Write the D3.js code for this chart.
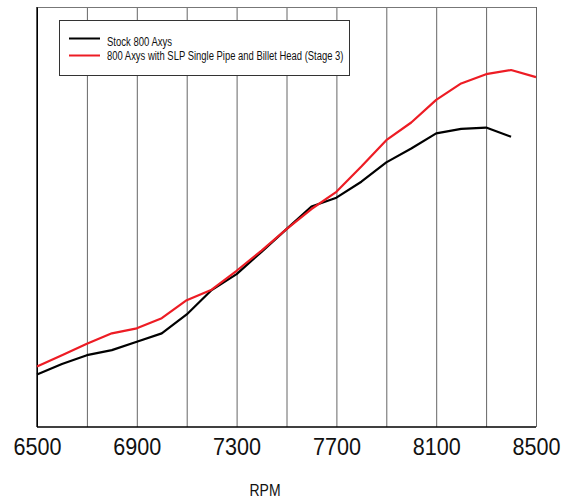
<!DOCTYPE html>
<html><head><meta charset="utf-8">
<script src="https://cdn.jsdelivr.net/npm/d3@7"></script>
<style>body{margin:0;background:#fff}svg{display:block}</style>
</head><body>
<svg id="c" width="571" height="498"></svg>
<script>
const rpm = [6500,6600,6700,6800,6900,7000,7100,7200,7300,7400,7500,7600,7700,7800,7900,8000,8100,8200,8300,8400,8500];
const stock = [12.5,15.0,17.1,18.3,20.3,22.3,26.8,32.6,36.4,41.7,47.1,52.5,54.6,58.4,63.0,66.3,69.9,71.0,71.3,69.1,null];
const stage3 = [14.4,17.1,19.8,22.3,23.5,25.9,30.2,32.7,37.2,42.0,47.1,51.9,56.0,62.0,68.3,72.5,77.9,81.8,84.0,85.0,83.3];
const gridTicks = [6500,6700,6900,7100,7300,7500,7700,7900,8100,8300,8500];
const labelTicks = [6500,6900,7300,7700,8100,8500];
const seriesNames = ["Stock 800 Axys","800 Axys with SLP Single Pipe and Billet Head (Stage 3)"];
const seriesColors = ["#000000","#ed1c24"];

const svg = d3.select("#c");
const L=37,R=536,T=7,B=427;
const x = d3.scaleLinear().domain([6500,8500]).range([L,R]);
const y = d3.scaleLinear().domain([0,100]).range([B,T]);

// gridlines
const grid = svg.append("g").attr("transform",`translate(0,${B})`)
  .call(d3.axisBottom(x).tickValues(gridTicks).tickSize(-(B-T)).tickFormat(""));
grid.select(".domain").remove();
grid.selectAll(".tick line").attr("stroke",(d,i)=> i%2? "#6e6e6e":"#222").attr("stroke-width",1);
grid.selectAll(".tick line").attr("stroke",(d)=> (d===6500)? "#000":"#666");

// frame
svg.append("line").attr("x1",L).attr("x2",R).attr("y1",T+0.5).attr("y2",T+0.5).attr("stroke","#777");
svg.append("line").attr("x1",L).attr("x2",R).attr("y1",B).attr("y2",B).attr("stroke","#000").attr("stroke-width",1.3);
svg.append("line").attr("x1",L).attr("x2",L).attr("y1",T).attr("y2",B).attr("stroke","#000").attr("stroke-width",1.3);

// labels
const lab = svg.append("g").attr("transform",`translate(0,${B})`)
  .call(d3.axisBottom(x).tickValues(labelTicks).tickSize(0).tickFormat(d3.format("d")));
lab.select(".domain").remove();
lab.selectAll("text").attr("dy",null).attr("y",28)
  .attr("font-family","Liberation Sans, Arial, sans-serif").attr("font-size",23).attr("fill","#111")
  .attr("textLength",48).attr("lengthAdjust","spacingAndGlyphs");

svg.append("text").attr("x",265).attr("y",496).attr("text-anchor","middle")
  .attr("font-family","Liberation Sans, Arial, sans-serif").attr("font-size",16.5).attr("fill","#111")
  .attr("textLength",31).attr("lengthAdjust","spacingAndGlyphs").text("RPM");

// lines
const line = d3.line().defined(d=>d[1]!=null).x(d=>x(d[0])).y(d=>y(d[1]));
[stock,stage3].forEach((s,i)=>{
  svg.append("path").datum(rpm.map((r,j)=>[r,s[j]])).attr("d",line)
    .attr("fill","none").attr("stroke",seriesColors[i]).attr("stroke-width",2.2).attr("stroke-linejoin","round");
});

// legend
const lg = svg.append("g");
lg.append("rect").attr("x",59.5).attr("y",20.5).attr("width",290).attr("height",55).attr("fill","#fff").attr("stroke","#333").attr("stroke-width",1);
const lys=[38.5,55.5], tys=[45.5,60], tl=[65,236.5];
seriesNames.forEach((n,i)=>{
  lg.append("line").attr("x1",69).attr("x2",100).attr("y1",lys[i]).attr("y2",lys[i]).attr("stroke",seriesColors[i]).attr("stroke-width",2);
  lg.append("text").attr("x",107).attr("y",tys[i]).attr("font-family","Liberation Sans, Arial, sans-serif").attr("font-size",12.5).attr("fill","#111")
    .attr("textLength",tl[i]).attr("lengthAdjust","spacingAndGlyphs").text(n);
});
</script>
</body></html>
